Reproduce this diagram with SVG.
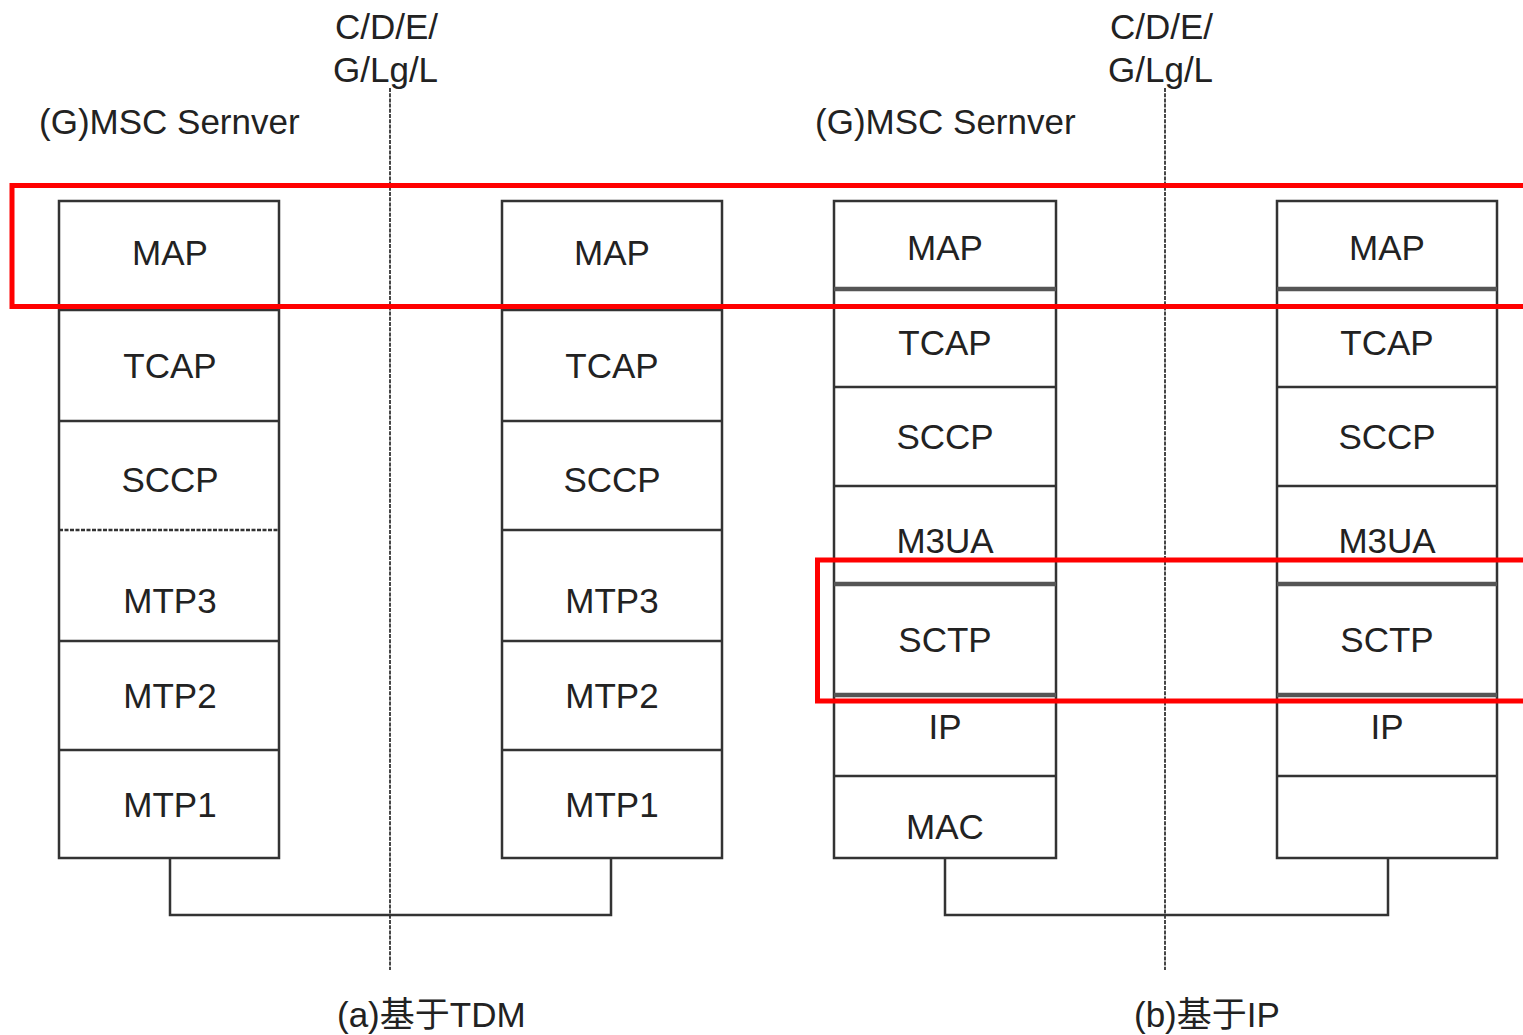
<svg xmlns="http://www.w3.org/2000/svg" width="1523" height="1035" viewBox="0 0 1523 1035">
<style>
  .t { font-family: "Liberation Sans", Arial, "Noto Sans CJK SC", sans-serif; font-size: 35px; fill: #222; }
  .c { text-anchor: middle; }
  .box { fill: #fff; stroke: #333; stroke-width: 2.5; }
  .div { stroke: #333; stroke-width: 2.5; fill: none; }
  .thick { stroke: #555; stroke-width: 4.5; fill: none; }
  .dash { stroke: #333; stroke-width: 1.8; stroke-dasharray: 4 1.2; fill: none; }
  .wire { stroke: #333; stroke-width: 2.5; fill: none; }
  .hl { fill: none; stroke: #f00; stroke-width: 5; }
</style>
<rect width="1523" height="1035" fill="#fff"/>

<g id="labels">
  <text class="t" x="335" y="39">C/D/E/</text>
  <text class="t" x="333" y="82">G/Lg/L</text>
  <text class="t" x="1110" y="39">C/D/E/</text>
  <text class="t" x="1108" y="82">G/Lg/L</text>
  <text class="t" x="39" y="134">(G)MSC Sernver</text>
  <text class="t" x="815" y="134">(G)MSC Sernver</text>
  <text class="t" x="337" y="1027">(a)基于TDM</text>
  <text class="t" x="1134" y="1027">(b)基于IP</text>
</g>

<g id="interfaces">
  <line class="dash" x1="390" y1="88" x2="390" y2="970"/>
  <line class="dash" x1="1165" y1="88" x2="1165" y2="970"/>
</g>

<g id="connectors">
  <polyline class="wire" points="170,858 170,915 611,915 611,858"/>
  <polyline class="wire" points="945,858 945,915 1388,915 1388,858"/>
</g>

<g id="stack-tdm-1">
  <rect class="box" x="59" y="201" width="220" height="657"/>
  <line class="div" x1="59" y1="310" x2="279" y2="310"/>
  <line class="div" x1="59" y1="421" x2="279" y2="421"/>
  <line class="div" x1="59" y1="530" x2="279" y2="530" stroke-dasharray="4 1.5"/>
  <line class="div" x1="59" y1="641" x2="279" y2="641"/>
  <line class="div" x1="59" y1="750" x2="279" y2="750"/>
  <text class="t c" x="170" y="265">MAP</text>
  <text class="t c" x="170" y="378">TCAP</text>
  <text class="t c" x="170" y="492">SCCP</text>
  <text class="t c" x="170" y="613">MTP3</text>
  <text class="t c" x="170" y="708">MTP2</text>
  <text class="t c" x="170" y="817">MTP1</text>
</g>

<g id="stack-tdm-2">
  <rect class="box" x="502" y="201" width="220" height="657"/>
  <line class="div" x1="502" y1="310" x2="722" y2="310"/>
  <line class="div" x1="502" y1="421" x2="722" y2="421"/>
  <line class="div" x1="502" y1="530" x2="722" y2="530"/>
  <line class="div" x1="502" y1="641" x2="722" y2="641"/>
  <line class="div" x1="502" y1="750" x2="722" y2="750"/>
  <text class="t c" x="612" y="265">MAP</text>
  <text class="t c" x="612" y="378">TCAP</text>
  <text class="t c" x="612" y="492">SCCP</text>
  <text class="t c" x="612" y="613">MTP3</text>
  <text class="t c" x="612" y="708">MTP2</text>
  <text class="t c" x="612" y="817">MTP1</text>
</g>

<g id="stack-ip-1">
  <rect class="box" x="834" y="201" width="222" height="657"/>
  <line class="thick" x1="834" y1="289" x2="1056" y2="289"/>
  <line class="div" x1="834" y1="387" x2="1056" y2="387"/>
  <line class="div" x1="834" y1="486" x2="1056" y2="486"/>
  <line class="thick" x1="834" y1="584" x2="1056" y2="584"/>
  <line class="thick" x1="834" y1="695" x2="1056" y2="695"/>
  <line class="div" x1="834" y1="776" x2="1056" y2="776"/>
  <text class="t c" x="945" y="260">MAP</text>
  <text class="t c" x="945" y="355">TCAP</text>
  <text class="t c" x="945" y="449">SCCP</text>
  <text class="t c" x="945" y="553">M3UA</text>
  <text class="t c" x="945" y="652">SCTP</text>
  <text class="t c" x="945" y="739">IP</text>
  <text class="t c" x="945" y="839">MAC</text>
</g>

<g id="stack-ip-2">
  <rect class="box" x="1277" y="201" width="220" height="657"/>
  <line class="thick" x1="1277" y1="289" x2="1497" y2="289"/>
  <line class="div" x1="1277" y1="387" x2="1497" y2="387"/>
  <line class="div" x1="1277" y1="486" x2="1497" y2="486"/>
  <line class="thick" x1="1277" y1="584" x2="1497" y2="584"/>
  <line class="thick" x1="1277" y1="695" x2="1497" y2="695"/>
  <line class="div" x1="1277" y1="776" x2="1497" y2="776"/>
  <text class="t c" x="1387" y="260">MAP</text>
  <text class="t c" x="1387" y="355">TCAP</text>
  <text class="t c" x="1387" y="449">SCCP</text>
  <text class="t c" x="1387" y="553">M3UA</text>
  <text class="t c" x="1387" y="652">SCTP</text>
  <text class="t c" x="1387" y="739">IP</text>
</g>

<g id="highlights">
  <rect class="hl" x="12" y="185.5" width="1530" height="121"/>
  <rect class="hl" x="817.5" y="560" width="720" height="141"/>
</g>
</svg>
